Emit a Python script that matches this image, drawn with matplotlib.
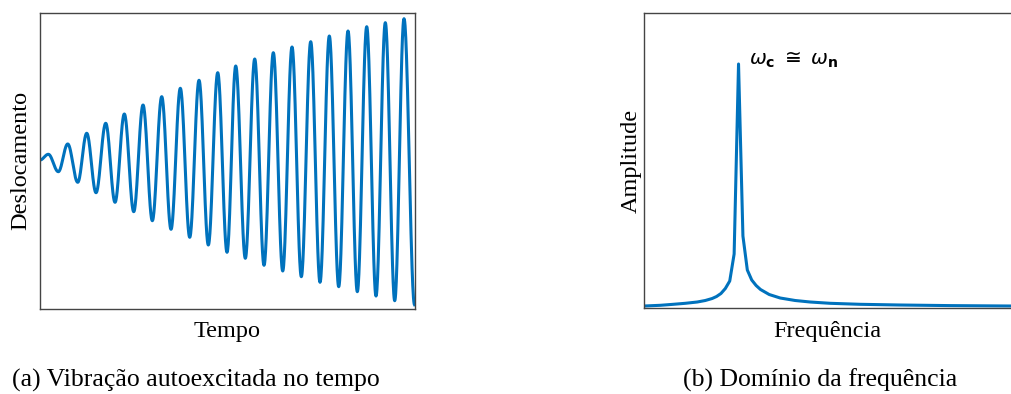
import numpy as np
import matplotlib
matplotlib.use("Agg")
import matplotlib.pyplot as plt

# Left panel: extremes (peaks / troughs) of the self-excited vibration
tempo_ext = [0, 8.3, 18.3, 27.7, 37.7, 46.7, 56, 65.7, 75, 84.3, 93.7, 103, 112.3, 121.7,
             131, 140.3, 149.7, 159, 168.3, 177.7, 187, 195.7, 205.3, 214.7, 224, 233.3,
             242.7, 252, 261.3, 270.7, 280, 289.3, 298.7, 308, 317.3, 326.7, 336, 345.3,
             354.7, 364, 374.5]
desloc_ext = [0.7, 6.4, -11, 16.7, -21.6, 27.4, -32, 37.4, -41.6, 46.7, -51, 55.7, -60, 64,
              -68.6, 72.4, -76.6, 80.4, -84.3, 88, -91.6, 94.7, -97.6, 101.7, -104.6, 108,
              -110.3, 113.7, -116, 119, -121.6, 124.7, -126, 129.7, -131, 134, -135.3, 138,
              -140, 142, -144]

# Right panel: amplitude spectrum samples
freq = [0, 16, 29, 41, 53, 61, 67.9, 72.3, 76.7, 81.1, 85.5, 89.9, 94.3, 98.7, 103.1, 107.5,
        111.9, 116.3, 125, 136, 151, 166, 186, 216, 256, 306, 366]
amp = [2.3, 3.0, 4.0, 5.0, 6.3, 7.8, 9.8, 11.8, 14.8, 19.8, 27.3, 54.3, 244.3, 72.3, 38.3,
       28.3, 22.8, 18.8, 13.8, 10.3, 7.8, 6.3, 5.0, 4.0, 3.3, 2.7, 2.3]

cor = "#0072BD"
serif = "Liberation Serif"

# smooth half-cycle shape between consecutive extremes
t_plot, d_plot = [], []
for i in range(len(tempo_ext) - 1):
    s = np.linspace(0, 1, 30, endpoint=False)
    t_plot.extend(tempo_ext[i] + (tempo_ext[i + 1] - tempo_ext[i]) * s)
    d_plot.extend(desloc_ext[i] + (desloc_ext[i + 1] - desloc_ext[i]) * (1 - np.cos(np.pi * s)) / 2)
t_plot.append(tempo_ext[-1])
d_plot.append(desloc_ext[-1])

fig = plt.figure(figsize=(10.11, 3.94), dpi=100)

ax1 = fig.add_axes([0.0396, 0.2165, 0.3709, 0.7513])
ax1.plot(t_plot, d_plot, color=cor, lw=2.2)
ax1.set_xlim(0, 375)
ax1.set_ylim(-148, 148)

ax2 = fig.add_axes([0.6373, 0.2175, 0.3627, 0.7503])
ax2.plot(freq, amp, color=cor, lw=2.2)
ax2.set_xlim(0, 367)
ax2.set_ylim(0, 295.6)
ax2.spines["right"].set_visible(False)
ax2.text(105, 238, r"$\omega_{\mathbf{c}}\;\cong\;\omega_{\mathbf{n}}$", fontsize=14.5,
         ha="left", va="bottom", fontweight="bold")

for ax in (ax1, ax2):
    ax.set_xticks([])
    ax.set_yticks([])
    for sp in ax.spines.values():
        sp.set_color("#444444")
        sp.set_linewidth(1)

ax1.set_ylabel("Deslocamento", fontfamily=serif, fontsize=17.5, labelpad=6)
ax1.set_xlabel("Tempo", fontfamily=serif, fontsize=17.5, labelpad=9)
ax2.set_ylabel("Amplitude", fontfamily=serif, fontsize=17.5, labelpad=2)
ax2.set_xlabel("Frequência", fontfamily=serif, fontsize=17.5, labelpad=9)

fig.text(196 / 1011, 1 - 380 / 394, "(a) Vibração autoexcitada no tempo", fontfamily=serif,
         fontsize=18.5, ha="center", va="center")
fig.text(820 / 1011, 1 - 380 / 394, "(b) Domínio da frequência", fontfamily=serif,
         fontsize=18.5, ha="center", va="center")

fig.savefig("out.png", dpi=100)
